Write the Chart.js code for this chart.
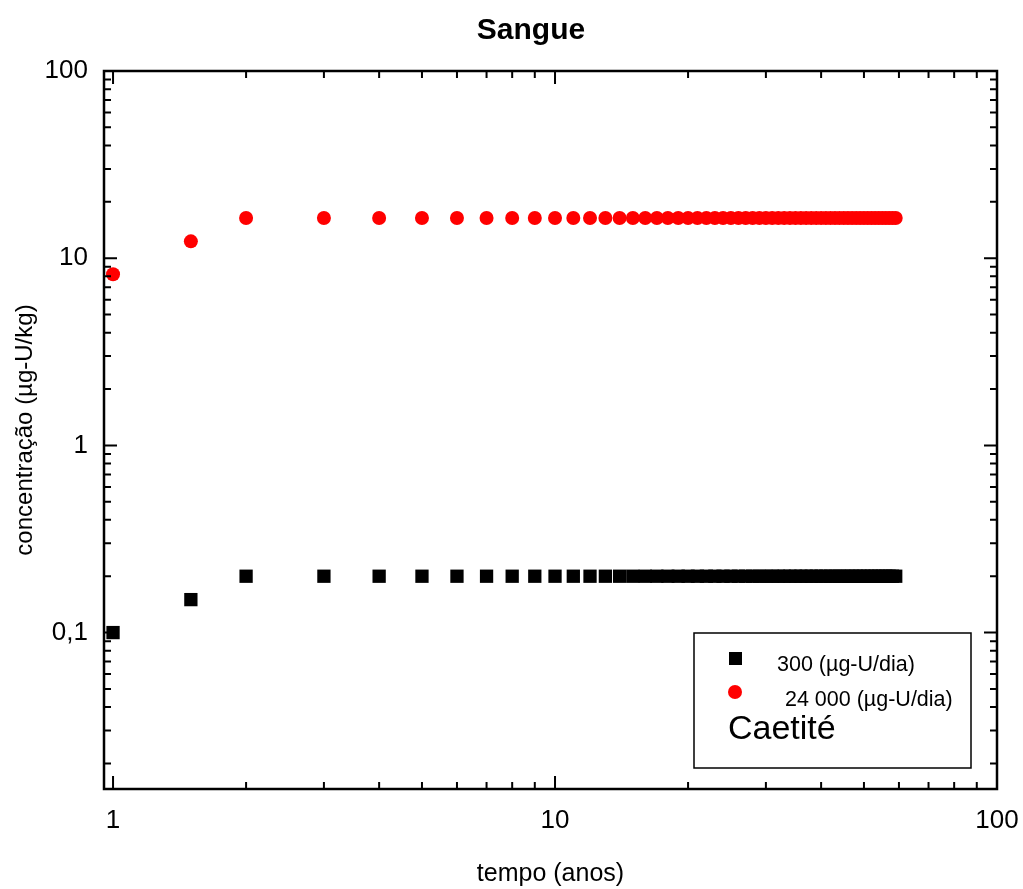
<!DOCTYPE html>
<html>
<head>
<meta charset="utf-8">
<title>Sangue</title>
<script src="https://cdn.jsdelivr.net/npm/chart.js@4.4.1/dist/chart.umd.min.js"></script>
<style>
    html, body { margin: 0; padding: 0; background: #fff; }
    #wrap { width: 1023px; height: 889px; }
</style>
</head>
<body>
<div id="wrap"><canvas id="chart" width="1023" height="889"></canvas></div>
<script>
// tempo (anos)
const anos = [
    1, 1.5, 2, 3, 4, 5, 6, 7, 8, 9,
    10, 11, 12, 13, 14, 15, 16, 17, 18, 19,
    20, 21, 22, 23, 24, 25, 26, 27, 28, 29,
    30, 31, 32, 33, 34, 35, 36, 37, 38, 39,
    40, 41, 42, 43, 44, 45, 46, 47, 48, 49,
    50, 51, 52, 53, 54, 55, 56, 57, 58, 59
];

// concentração (µg-U/kg), 300 µg-U/dia
const conc300 = [
    0.1, 0.15, 0.2, 0.2, 0.2, 0.2, 0.2, 0.2, 0.2, 0.2,
    0.2, 0.2, 0.2, 0.2, 0.2, 0.2, 0.2, 0.2, 0.2, 0.2,
    0.2, 0.2, 0.2, 0.2, 0.2, 0.2, 0.2, 0.2, 0.2, 0.2,
    0.2, 0.2, 0.2, 0.2, 0.2, 0.2, 0.2, 0.2, 0.2, 0.2,
    0.2, 0.2, 0.2, 0.2, 0.2, 0.2, 0.2, 0.2, 0.2, 0.2,
    0.2, 0.2, 0.2, 0.2, 0.2, 0.2, 0.2, 0.2, 0.2, 0.2
];

// concentração (µg-U/kg), 24 000 µg-U/dia
const conc24000 = [
    8.2, 12.3, 16.4, 16.4, 16.4, 16.4, 16.4, 16.4, 16.4, 16.4,
    16.4, 16.4, 16.4, 16.4, 16.4, 16.4, 16.4, 16.4, 16.4, 16.4,
    16.4, 16.4, 16.4, 16.4, 16.4, 16.4, 16.4, 16.4, 16.4, 16.4,
    16.4, 16.4, 16.4, 16.4, 16.4, 16.4, 16.4, 16.4, 16.4, 16.4,
    16.4, 16.4, 16.4, 16.4, 16.4, 16.4, 16.4, 16.4, 16.4, 16.4,
    16.4, 16.4, 16.4, 16.4, 16.4, 16.4, 16.4, 16.4, 16.4, 16.4
];

const seriesLabels = ['300 (\u00b5g-U/dia)', ' 24 000 (\u00b5g-U/dia)'];
const legendNote = 'Caetité';

const xMajorTicks = [1, 10, 100];
const xTickLabels = ['1', '10', '100'];
const yMajorTicks = [0.1, 1, 10, 100];
const yTickLabels = ['0,1', '1', '10', '100'];

const FONT = "'Liberation Sans', Arial, sans-serif";

function isMajor(v) {
    const l = Math.log10(v);
    return Math.abs(l - Math.round(l)) < 1e-9;
}

// all 1..9 x 10^n ticks inside the range
function logTicks(min, max) {
    const out = [];
    for (let e = Math.floor(Math.log10(min)); e <= Math.ceil(Math.log10(max)); e++) {
        for (let m = 1; m <= 9; m++) {
            const v = parseFloat((m * Math.pow(10, e)).toPrecision(6));
            if (v >= min - 1e-12 && v <= max + 1e-12) out.push(v);
        }
    }
    return out;
}

function labelFor(value, majors, labels) {
    for (let i = 0; i < majors.length; i++) {
        if (Math.abs(Math.log10(value) - Math.log10(majors[i])) < 1e-9) return labels[i];
    }
    return '';
}

function toPoints(xs, ys) {
    return xs.map((x, i) => ({ x: x, y: ys[i] }));
}

// frame, inward ticks on all four sides, title and boxed legend
const framePlugin = {
    id: 'frame',
    afterDraw(chart) {
        const ctx = chart.ctx;
        const a = chart.chartArea;
        const xs = chart.scales.x;
        const ys = chart.scales.y;
        ctx.save();
        ctx.strokeStyle = '#000';
        ctx.lineWidth = 2.5;
        ctx.strokeRect(a.left, a.top, a.right - a.left, a.bottom - a.top);

        ctx.lineWidth = 2;
        ctx.beginPath();
        xs.ticks.forEach(t => {
            const px = xs.getPixelForValue(t.value);
            const len = isMajor(t.value) ? 13 : 7;
            ctx.moveTo(px, a.bottom); ctx.lineTo(px, a.bottom - len);
            ctx.moveTo(px, a.top); ctx.lineTo(px, a.top + len);
        });
        ys.ticks.forEach(t => {
            const py = ys.getPixelForValue(t.value);
            const len = isMajor(t.value) ? 13 : 7;
            ctx.moveTo(a.left, py); ctx.lineTo(a.left + len, py);
            ctx.moveTo(a.right, py); ctx.lineTo(a.right - len, py);
        });
        ctx.stroke();

        // title
        ctx.fillStyle = '#000';
        ctx.font = 'bold 30px ' + FONT;
        ctx.textAlign = 'center';
        ctx.textBaseline = 'middle';
        ctx.fillText('Sangue', 531, 31);

        // legend box
        ctx.lineWidth = 1.5;
        ctx.strokeRect(694, 633, 277, 135);
        const ds = chart.data.datasets;
        ctx.textAlign = 'left';
        ctx.font = '21.5px ' + FONT;
        ctx.fillStyle = ds[0].backgroundColor;
        ctx.fillRect(729, 652, 13, 13);
        ctx.fillStyle = '#000';
        ctx.fillText(ds[0].label, 777, 665);
        ctx.fillStyle = ds[1].backgroundColor;
        ctx.beginPath();
        ctx.arc(735, 692, 7, 0, Math.PI * 2);
        ctx.fill();
        ctx.fillStyle = '#000';
        ctx.fillText(ds[1].label, 779, 700);
        ctx.font = '34px ' + FONT;
        ctx.textBaseline = 'alphabetic';
        ctx.fillText(legendNote, 728, 739);
        ctx.restore();
    }
};

const tickFont = { family: FONT, size: 26 };

new Chart(document.getElementById('chart').getContext('2d'), {
    type: 'scatter',
    data: {
        datasets: [{
            label: seriesLabels[0],
            data: toPoints(anos, conc300),
            pointStyle: 'rect',
            pointRadius: 9.4,
            backgroundColor: '#000000',
            borderColor: '#000000',
            borderWidth: 0
        }, {
            label: seriesLabels[1],
            data: toPoints(anos, conc24000),
            pointStyle: 'circle',
            pointRadius: 7,
            backgroundColor: '#ff0000',
            borderColor: '#ff0000',
            borderWidth: 0
        }]
    },
    options: {
        responsive: false,
        animation: false,
        layout: { padding: { top: 71, right: 26, left: 0, bottom: 0 } },
        plugins: {
            legend: { display: false },
            title: { display: false },
            tooltip: { enabled: false }
        },
        scales: {
            x: {
                type: 'logarithmic',
                position: 'bottom',
                min: 0.954,
                max: 100,
                grid: { display: false, drawTicks: false },
                border: { display: false },
                ticks: {
                    autoSkip: false,
                    maxRotation: 0,
                    padding: 16,
                    color: '#000',
                    font: tickFont,
                    callback: v => labelFor(v, xMajorTicks, xTickLabels)
                },
                afterBuildTicks: s => { s.ticks = logTicks(s.min, s.max).map(v => ({ value: v })); },
                afterFit: s => { s.height = 100; s.paddingLeft = 0; s.paddingRight = 0; },
                title: {
                    display: true,
                    text: 'tempo (anos)',
                    color: '#000',
                    font: { family: FONT, size: 25 },
                    padding: 0
                }
            },
            y: {
                type: 'logarithmic',
                position: 'left',
                min: 0.0146,
                max: 100,
                grid: { display: false, drawTicks: false },
                border: { display: false },
                ticks: {
                    autoSkip: false,
                    padding: 16,
                    color: '#000',
                    font: tickFont,
                    callback: v => labelFor(v, yMajorTicks, yTickLabels)
                },
                afterBuildTicks: s => { s.ticks = logTicks(s.min, s.max).map(v => ({ value: v })); },
                afterFit: s => { s.width = 104; s.paddingTop = 0; s.paddingBottom = 0; },
                title: {
                    display: true,
                    text: 'concentração (\u00b5g-U/kg)',
                    color: '#000',
                    font: { family: FONT, size: 24 },
                    padding: 11
                }
            }
        }
    },
    plugins: [framePlugin]
});
</script>
</body>
</html>
